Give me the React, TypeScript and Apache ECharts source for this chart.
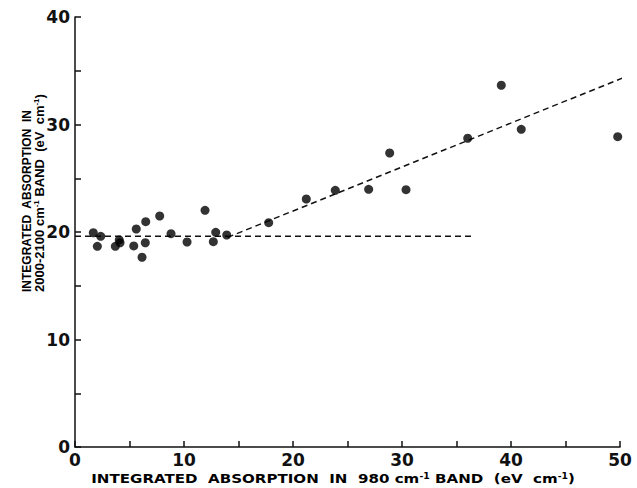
import React, { useEffect, useRef } from "react";
import * as echarts from "echarts";

// Integrated absorption in 980 cm-1 band (eV cm-1)
const xValues = [
  1.68, 2.36, 2.05, 3.7, 4.06, 4.13, 5.62, 5.39, 6.49, 6.45, 6.15, 7.77, 8.81, 10.28,
  11.93, 12.91, 12.69, 13.92, 17.77, 21.22, 23.88, 26.94, 28.87, 30.37, 36.03, 39.11,
  40.94, 49.79,
];
// Integrated absorption in 2000-2100 cm-1 band (eV cm-1)
const yValues = [
  19.93, 19.6, 18.67, 18.67, 19.26, 19.0, 20.28, 18.7, 20.96, 19.0, 17.65, 21.49, 19.84,
  19.07, 22.02, 19.97, 19.1, 19.72, 20.87, 23.07, 23.88, 23.97, 27.35, 23.94, 28.72,
  33.65, 29.55, 28.87,
];
const baselineX = [0, 36.4];
const baselineY = [19.6, 19.6];
const trendX = [14.0, 51.3];
const trendY = [19.5, 34.76];
const xTickLabels = [0, 10, 20, 30, 40, 50];
const yTickLabels = [0, 10, 20, 30, 40];

const FONT = "Liberation Sans, Arial, Helvetica, sans-serif";
const WIDE = "DejaVu Sans, Verdana, sans-serif";

export default function App() {
  const ref = useRef<HTMLDivElement>(null);
  useEffect(() => {
    if (!ref.current) return;
    const chart = echarts.init(ref.current, undefined, { renderer: "svg" });
    const pts = xValues.map((x, i) => [x, yValues[i]]);
    const base = baselineX.map((x, i) => [x, baselineY[i]]);
    const trend = trendX.map((x, i) => [x, trendY[i]]);
    const xRich = {
      n: { fontFamily: WIDE, fontWeight: "bold", fontSize: 13, color: "#111", lineHeight: 12 },
      s: { fontFamily: WIDE, fontWeight: "bold", fontSize: 8, color: "#111", verticalAlign: "top", lineHeight: 12 },
    };
    const y1Rich = {
      n: { fontFamily: FONT, fontWeight: "bold", fontSize: 12, color: "#111", lineHeight: 13 },
    };
    const y2Rich = {
      n: { fontFamily: FONT, fontWeight: "bold", fontSize: 13, color: "#111", lineHeight: 13 },
      s: { fontFamily: FONT, fontWeight: "bold", fontSize: 8, color: "#111", verticalAlign: "top", lineHeight: 13 },
    };
    const tickLabel = {
      color: "#111",
      fontFamily: WIDE,
      fontWeight: "bold",
      fontSize: 17,
    };
    chart.setOption({
      animation: false,
      backgroundColor: "#fff",
      grid: { left: 75, top: 17, width: 545, height: 430, containLabel: false },
      xAxis: {
        type: "value",
        min: 0,
        max: 50,
        interval: 5,
        splitLine: { show: false },
        axisLine: { show: true, onZero: false, lineStyle: { color: "#111", width: 1.5 } },
        axisTick: { show: true, inside: true, length: 6, lineStyle: { color: "#111", width: 1.5 } },
        axisLabel: {
          ...tickLabel,
          margin: 6,
          lineHeight: 14,
          formatter: (v: number) => (xTickLabels.includes(v) ? String(v) : ""),
        },
      },
      yAxis: {
        type: "value",
        min: 0,
        max: 40,
        interval: 5,
        splitLine: { show: false },
        axisLine: { show: true, onZero: false, lineStyle: { color: "#111", width: 1.5 } },
        axisTick: { show: true, inside: true, length: 6, lineStyle: { color: "#111", width: 1.5 } },
        axisLabel: {
          ...tickLabel,
          margin: 5,
          formatter: (v: number) => (yTickLabels.includes(v) ? String(v) : ""),
        },
      },
      graphic: [
        {
          type: "text",
          x: 333,
          y: 478,
          scaleX: 1.16,
          style: {
            text: "{n|INTEGRATED  ABSORPTION  IN  980 cm}{s|-1}{n| BAND  (eV  cm}{s|-1}{n|)}",
            rich: xRich,
            align: "center",
            verticalAlign: "middle",
          },
        },
        {
          type: "text",
          x: 27,
          y: 201,
          rotation: Math.PI / 2,
          style: {
            text: "{n|INTEGRATED  ABSORPTION  IN}",
            rich: y1Rich,
            align: "center",
            verticalAlign: "middle",
          },
        },
        {
          type: "text",
          x: 39,
          y: 193,
          rotation: Math.PI / 2,
          style: {
            text: "{n|2000-2100 cm}{s|-1}{n| BAND  (eV  cm}{s|-1}{n|)}",
            rich: y2Rich,
            align: "center",
            verticalAlign: "middle",
          },
        },
      ],
      series: [
        {
          type: "line",
          data: base,
          showSymbol: false,
          clip: false,
          lineStyle: { color: "#111", width: 1.5, type: [6, 4] },
          z: 1,
        },
        {
          type: "line",
          data: trend,
          showSymbol: false,
          clip: false,
          lineStyle: { color: "#111", width: 1.5, type: [6, 4] },
          z: 1,
        },
        {
          type: "scatter",
          data: pts,
          symbol: "circle",
          symbolSize: 9,
          itemStyle: { color: "#000" },
          z: 3,
        },
      ],
    });
    return () => chart.dispose();
  }, []);
  return (
    <div
      ref={ref}
      style={{ position: "absolute", left: 0, top: 0, width: 637, height: 488 }}
    />
  );
}
